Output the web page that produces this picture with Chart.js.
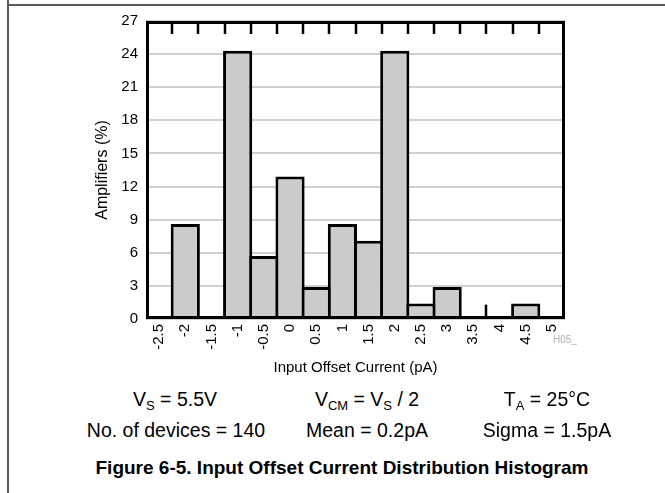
<!DOCTYPE html>
<html>
<head>
<meta charset="utf-8">
<script src="https://cdn.jsdelivr.net/npm/chart.js@4.4.1/dist/chart.umd.min.js"></script>
<style>
  html, body { margin: 0; padding: 0; background: #fff; }
  #wrap { position: relative; width: 665px; height: 493px; overflow: hidden; font-family: "Liberation Sans", Arial, sans-serif; color: #000; }
  #c { position: absolute; left: 0; top: 0; }
  .frameL { position: absolute; left: 7px; top: 0; width: 2px; height: 493px; background: #5a5a5a; }
  .frameT { position: absolute; left: 7px; top: 4px; width: 658px; height: 2px; background: #5a5a5a; }
  .t { position: absolute; white-space: nowrap; transform: translate(-50%, -50%); font-size: 19.5px; line-height: 1; }
  .t sub { font-size: 13px; vertical-align: -4px; line-height: 0; }
  .cap { font-weight: bold; font-size: 19px; }
  .h05 { position: absolute; left: 553px; top: 334px; font-size: 10px; color: #b0b0b0; }
</style>
</head>
<body>
<div id="wrap">
  <canvas id="c" width="665" height="380"></canvas>
  <div class="frameL"></div>
  <div class="frameT"></div>
  <div class="h05">H05_</div>
  <div class="t" style="left:175px; top:400px">V<sub>S</sub> = 5.5V</div>
  <div class="t" style="left:367px; top:400px">V<sub>CM</sub> = V<sub>S</sub> / 2</div>
  <div class="t" style="left:547px; top:400px">T<sub>A</sub> = 25°C</div>
  <div class="t" style="left:176px; top:431px">No. of devices = 140</div>
  <div class="t" style="left:367px; top:431px">Mean = 0.2pA</div>
  <div class="t" style="left:547px; top:431px">Sigma = 1.5pA</div>
  <div class="t cap" style="left:342px; top:467px">Figure 6-5. Input Offset Current Distribution Histogram</div>
</div>
<script>
// Data
const categories = ["-2.5", "-2", "-1.5", "-1", "-0.5", "0", "0.5", "1", "1.5", "2", "2.5", "3", "3.5", "4", "4.5", "5"];
const amplifiersPct = [0, 8.6, 0, 24.3, 5.7, 12.9, 2.9, 8.6, 7.1, 24.3, 1.4, 2.9, 0, 0, 1.4, 0];
const yTicks = [0, 3, 6, 9, 12, 15, 18, 21, 24, 27];
// small stray edge line seen between the 3.5 and 4 bins: [boundary index (between categories), height in %]
const strayEdges = [[12.5, 1.3]];
const xTitle = "Input Offset Current (pA)";
const yTitle = "Amplifiers (%)";

const FONT = "'Liberation Sans', Arial, sans-serif";

const framePlugin = {
  id: 'framePlugin',
  afterDatasetsDraw(chart) {
    const { ctx, chartArea: a, scales: { x, y } } = chart;
    ctx.save();
    ctx.strokeStyle = '#000';
    const half = (x.getPixelForValue(1) - x.getPixelForValue(0)) / 2;
    ctx.lineWidth = 2.5;
    for (let i = 1; i < categories.length; i++) {
      const px = Math.round(x.getPixelForValue(i) - half);
      ctx.beginPath();
      ctx.moveTo(px, a.top);
      ctx.lineTo(px, a.top + 13);
      ctx.stroke();
    }
    ctx.lineWidth = 2.5;
    strayEdges.forEach(([b, h]) => {
      const px = Math.round(x.getPixelForValue(Math.floor(b)) + half);
      ctx.beginPath();
      ctx.moveTo(px, y.getPixelForValue(0));
      ctx.lineTo(px, y.getPixelForValue(h));
      ctx.stroke();
    });
    ctx.lineWidth = 3;
    ctx.strokeRect(a.left + 1.5, a.top + 1.5, a.right - a.left - 3, a.bottom - a.top - 3);
    ctx.restore();
  }
};

new Chart(document.getElementById('c'), {
  type: 'bar',
  data: {
    labels: categories,
    datasets: [{
      data: amplifiersPct,
      backgroundColor: '#cbcbcb',
      borderColor: '#000',
      borderWidth: 3,
      borderSkipped: 'bottom',
      barPercentage: 1.114,
      categoryPercentage: 1
    }]
  },
  options: {
    responsive: false,
    animation: false,
    devicePixelRatio: 1,
    layout: { padding: { left: 89, right: 100, top: 21, bottom: 0 } },
    plugins: { legend: { display: false }, tooltip: { enabled: false } },
    scales: {
      x: {
        grid: { display: false, drawTicks: false },
        border: { display: false },
        ticks: { color: '#000', font: { family: FONT, size: 15 }, minRotation: 90, maxRotation: 90, padding: 5, autoSkip: false },
        title: { display: true, text: xTitle, color: '#000', font: { family: FONT, size: 15 }, padding: { top: 0, bottom: 3 } },
        afterFit(s) { s.height = 61; }
      },
      y: {
        min: 0, max: 27,
        afterBuildTicks(s) { s.ticks = yTicks.map(v => ({ value: v })); },
        grid: { color: '#d0d0d0', lineWidth: 2, drawTicks: false },
        border: { display: false },
        ticks: { color: '#000', font: { family: FONT, size: 15 }, padding: 8 },
        title: { display: true, text: yTitle, color: '#000', font: { family: FONT, size: 16 }, padding: { top: 4, bottom: 0 } },
        afterFit(s) { s.width = 57; }
      }
    }
  },
  plugins: [framePlugin]
});
</script>
</body>
</html>
